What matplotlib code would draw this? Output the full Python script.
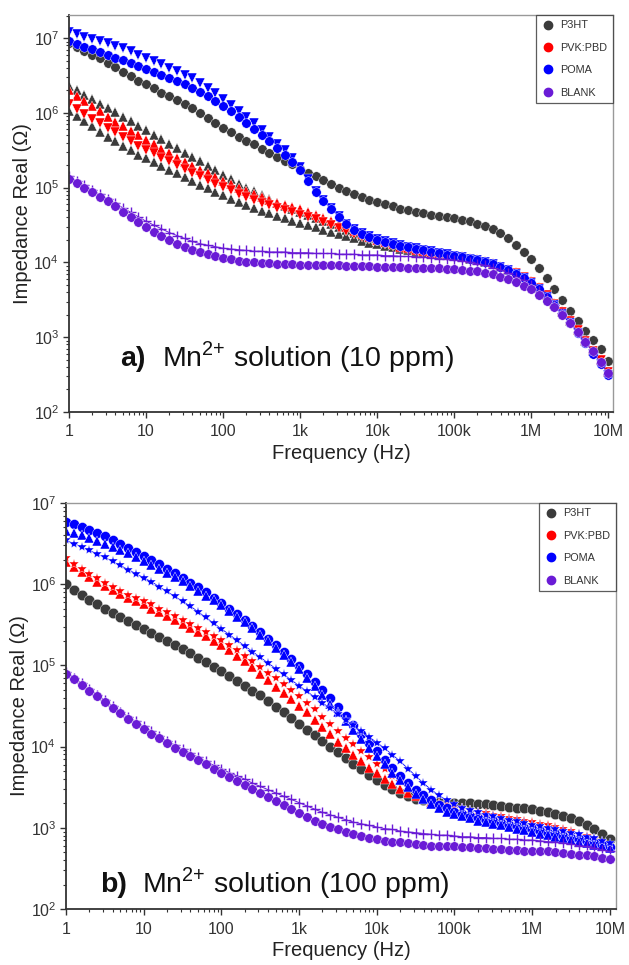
import numpy as np
import matplotlib
matplotlib.use("Agg")
import matplotlib.pyplot as plt
from matplotlib.lines import Line2D
from matplotlib.ticker import LogLocator, NullFormatter

plt.rcParams["font.family"] = ["Liberation Sans", "DejaVu Sans"]
plt.rcParams["mathtext.fontset"] = "custom"
plt.rcParams["mathtext.rm"] = "Liberation Sans"

# measurement frequencies (Hz), 10 points per decade from 1 Hz to 10 MHz
freq_hz = np.logspace(0, 7, 71)

x_ticks = [1, 10, 100, 1e3, 1e4, 1e5, 1e6, 1e7]
x_tick_labels = ["1", "10", "100", "1k", "10k", "100k", "1M", "10M"]
y_ticks = [1e2, 1e3, 1e4, 1e5, 1e6, 1e7]
y_tick_labels = ["$10^{2}$", "$10^{3}$", "$10^{4}$", "$10^{5}$", "$10^{6}$", "$10^{7}$"]

materials = ["P3HT", "PVK:PBD", "POMA", "BLANK"]
colors = {"P3HT": "#3b3b3b", "PVK:PBD": "#ff0000", "POMA": "#0000ff", "BLANK": "#6a1bd6"}

# ---- panel a: Mn2+ 10 ppm, log10 of real impedance (ohm) ----
a_p3ht_o = [
    6.93, 6.88, 6.83, 6.78, 6.73, 6.67, 6.61, 6.55, 6.49, 6.43,
    6.38, 6.33, 6.27, 6.22, 6.17, 6.12, 6.06, 6.00, 5.93, 5.86,
    5.80, 5.74, 5.68, 5.63, 5.58, 5.52, 5.47, 5.41, 5.36, 5.31,
    5.25, 5.20, 5.15, 5.10, 5.05, 5.00, 4.95, 4.91, 4.87, 4.84,
    4.81, 4.78, 4.75, 4.72, 4.70, 4.68, 4.66, 4.64, 4.62, 4.61,
    4.59, 4.57, 4.55, 4.52, 4.49, 4.45, 4.40, 4.32, 4.23, 4.14,
    4.05, 3.93, 3.79, 3.65, 3.50, 3.35, 3.21, 3.08, 2.96, 2.84,
    2.68]
a_p3ht_tri_hi = [
    6.36, 6.30, 6.24, 6.18, 6.12, 6.07, 6.01, 5.95, 5.89, 5.83,
    5.77, 5.71, 5.65, 5.59, 5.53, 5.47, 5.41, 5.35, 5.29, 5.23,
    5.17, 5.11, 5.05, 5.00, 4.95, 4.90, 4.85, 4.80, 4.76, 4.72,
    4.68, 4.64, 4.60, 4.56, 4.52, 4.48, 4.44, 4.40, 4.36, 4.33,
    4.30, 4.27, 4.24, 4.21, 4.19, 4.17, 4.15, 4.13, 4.11, 4.10,
    4.08, 4.07, 4.05, 4.03, 4.01, 3.98, 3.94, 3.90, 3.86, 3.80,
    3.74, 3.66, 3.56, 3.45, 3.34, 3.22, 3.09, 2.95, 2.82, 2.69,
    2.53]
a_p3ht_tri_lo = [
    6.03, 5.96, 5.89, 5.82, 5.75, 5.68, 5.62, 5.56, 5.50, 5.44,
    5.39, 5.34, 5.29, 5.24, 5.19, 5.14, 5.09, 5.04, 4.99, 4.94,
    4.90, 4.85, 4.81, 4.77, 4.73, 4.69, 4.66, 4.62, 4.59, 4.56,
    4.53, 4.50, 4.47, 4.44, 4.41, 4.38, 4.35, 4.32, 4.29, 4.26,
    4.24, 4.22, 4.20, 4.18, 4.16, 4.14, 4.13, 4.12, 4.11, 4.10,
    4.09, 4.07, 4.05, 4.03, 4.01, 3.98, 3.94, 3.90, 3.86, 3.80,
    3.74, 3.66, 3.56, 3.45, 3.34, 3.22, 3.09, 2.95, 2.82, 2.69,
    2.53]
a_pvk_tri = [
    6.30, 6.23, 6.16, 6.09, 6.02, 5.95, 5.88, 5.82, 5.76, 5.70,
    5.64, 5.58, 5.52, 5.46, 5.40, 5.34, 5.29, 5.24, 5.19, 5.14,
    5.09, 5.05, 5.00, 4.96, 4.92, 4.88, 4.84, 4.80, 4.77, 4.74,
    4.71, 4.67, 4.64, 4.60, 4.56, 4.52, 4.47, 4.42, 4.38, 4.34,
    4.30, 4.27, 4.24, 4.21, 4.19, 4.17, 4.15, 4.13, 4.12, 4.10,
    4.09, 4.08, 4.06, 4.04, 4.02, 3.99, 3.95, 3.91, 3.87, 3.81,
    3.75, 3.67, 3.57, 3.46, 3.35, 3.23, 3.10, 2.96, 2.83, 2.70,
    2.54]
a_pvk_star = [
    6.12, 6.05, 5.98, 5.92, 5.86, 5.80, 5.74, 5.68, 5.62, 5.56,
    5.51, 5.46, 5.40, 5.35, 5.30, 5.25, 5.20, 5.15, 5.10, 5.05,
    5.01, 4.97, 4.92, 4.88, 4.84, 4.80, 4.77, 4.73, 4.70, 4.67,
    4.64, 4.61, 4.58, 4.54, 4.50, 4.46, 4.42, 4.38, 4.34, 4.31,
    4.28, 4.25, 4.22, 4.20, 4.18, 4.16, 4.14, 4.12, 4.11, 4.09,
    4.08, 4.07, 4.05, 4.03, 4.01, 3.98, 3.94, 3.90, 3.86, 3.80,
    3.74, 3.66, 3.56, 3.45, 3.34, 3.22, 3.09, 2.95, 2.82, 2.69,
    2.53]
a_poma_tri = [
    7.08, 7.05, 7.02, 6.99, 6.96, 6.93, 6.90, 6.87, 6.83, 6.78,
    6.73, 6.69, 6.65, 6.60, 6.56, 6.51, 6.46, 6.40, 6.33, 6.26,
    6.19, 6.11, 6.03, 5.94, 5.86, 5.77, 5.68, 5.59, 5.50, 5.40,
    5.28, 5.12, 4.96, 4.84, 4.73, 4.62, 4.52, 4.45, 4.39, 4.35,
    4.31, 4.28, 4.26, 4.23, 4.21, 4.19, 4.17, 4.15, 4.13, 4.11,
    4.09, 4.07, 4.05, 4.03, 4.01, 3.98, 3.94, 3.90, 3.85, 3.79,
    3.72, 3.64, 3.54, 3.43, 3.31, 3.19, 3.06, 2.92, 2.78, 2.64,
    2.49]
a_poma_o = [
    6.96, 6.92, 6.88, 6.85, 6.81, 6.78, 6.74, 6.71, 6.67, 6.63,
    6.59, 6.55, 6.51, 6.47, 6.43, 6.38, 6.33, 6.28, 6.22, 6.16,
    6.09, 6.02, 5.95, 5.87, 5.79, 5.71, 5.62, 5.53, 5.44, 5.34,
    5.23, 5.09, 4.94, 4.82, 4.71, 4.61, 4.51, 4.44, 4.38, 4.34,
    4.30, 4.27, 4.25, 4.22, 4.20, 4.18, 4.16, 4.14, 4.12, 4.10,
    4.08, 4.07, 4.05, 4.03, 4.01, 3.98, 3.94, 3.90, 3.85, 3.79,
    3.72, 3.64, 3.54, 3.43, 3.31, 3.19, 3.06, 2.92, 2.78, 2.64,
    2.49]
a_blank_o = [
    5.12, 5.06, 5.00, 4.94, 4.88, 4.82, 4.75, 4.68, 4.61, 4.54,
    4.47, 4.41, 4.35, 4.30, 4.25, 4.21, 4.17, 4.14, 4.11, 4.08,
    4.06, 4.04, 4.02, 4.01, 4.00, 3.99, 3.99, 3.98, 3.98, 3.98,
    3.97, 3.97, 3.97, 3.96, 3.96, 3.96, 3.95, 3.95, 3.95, 3.95,
    3.94, 3.94, 3.94, 3.94, 3.93, 3.93, 3.93, 3.92, 3.92, 3.91,
    3.91, 3.90, 3.89, 3.88, 3.86, 3.84, 3.81, 3.78, 3.74, 3.69,
    3.64, 3.57, 3.49, 3.40, 3.30, 3.19, 3.07, 2.94, 2.81, 2.67,
    2.52]
a_blank_plus = [
    5.15, 5.09, 5.03, 4.97, 4.91, 4.85, 4.79, 4.73, 4.67, 4.61,
    4.55, 4.50, 4.45, 4.40, 4.36, 4.32, 4.28, 4.25, 4.23, 4.21,
    4.19, 4.18, 4.17, 4.16, 4.15, 4.15, 4.14, 4.14, 4.14, 4.13,
    4.13, 4.13, 4.12, 4.12, 4.12, 4.11, 4.11, 4.11, 4.10, 4.10,
    4.10, 4.09, 4.09, 4.08, 4.08, 4.07, 4.07, 4.06, 4.05, 4.04,
    4.03, 4.02, 4.00, 3.98, 3.96, 3.93, 3.90, 3.86, 3.81, 3.76,
    3.70, 3.62, 3.53, 3.43, 3.32, 3.20, 3.07, 2.94, 2.80, 2.66,
    2.51]

# ---- panel b: Mn2+ 100 ppm ----
b_p3ht_o = [
    6.00, 5.93, 5.87, 5.81, 5.75, 5.70, 5.65, 5.60, 5.55, 5.50,
    5.45, 5.40, 5.35, 5.30, 5.25, 5.20, 5.15, 5.09, 5.04, 4.98,
    4.93, 4.87, 4.81, 4.75, 4.69, 4.63, 4.56, 4.49, 4.42, 4.35,
    4.28, 4.21, 4.14, 4.07, 4.00, 3.93, 3.86, 3.79, 3.72, 3.65,
    3.59, 3.53, 3.48, 3.43, 3.39, 3.36, 3.34, 3.33, 3.32, 3.31,
    3.31, 3.30, 3.30, 3.29, 3.29, 3.28, 3.27, 3.26, 3.25, 3.24,
    3.23, 3.21, 3.19, 3.17, 3.15, 3.12, 3.08, 3.04, 2.99, 2.93,
    2.86]
b_pvk_star = [
    6.32, 6.25, 6.19, 6.13, 6.07, 6.02, 5.97, 5.92, 5.87, 5.83,
    5.79, 5.75, 5.70, 5.66, 5.61, 5.56, 5.51, 5.46, 5.41, 5.36,
    5.31, 5.25, 5.19, 5.12, 5.05, 4.98, 4.91, 4.84, 4.77, 4.70,
    4.62, 4.54, 4.46, 4.37, 4.28, 4.19, 4.11, 4.03, 3.95, 3.87,
    3.79, 3.72, 3.64, 3.57, 3.50, 3.44, 3.39, 3.35, 3.31, 3.28,
    3.26, 3.24, 3.22, 3.20, 3.18, 3.16, 3.14, 3.12, 3.11, 3.09,
    3.07, 3.05, 3.03, 3.01, 2.99, 2.96, 2.93, 2.90, 2.86, 2.82,
    2.78]
b_pvk_tri = [
    6.27, 6.21, 6.15, 6.09, 6.03, 5.98, 5.93, 5.88, 5.83, 5.79,
    5.75, 5.70, 5.66, 5.61, 5.56, 5.51, 5.46, 5.41, 5.36, 5.30,
    5.25, 5.19, 5.12, 5.05, 4.98, 4.90, 4.82, 4.74, 4.66, 4.58,
    4.50, 4.42, 4.33, 4.24, 4.15, 4.06, 3.98, 3.90, 3.82, 3.74,
    3.67, 3.60, 3.54, 3.48, 3.43, 3.39, 3.35, 3.32, 3.29, 3.27,
    3.25, 3.23, 3.21, 3.19, 3.17, 3.15, 3.13, 3.11, 3.09, 3.07,
    3.05, 3.03, 3.01, 2.99, 2.97, 2.94, 2.91, 2.88, 2.84, 2.80,
    2.76]
b_poma_o = [
    6.77, 6.74, 6.71, 6.67, 6.63, 6.59, 6.55, 6.50, 6.45, 6.40,
    6.35, 6.30, 6.25, 6.19, 6.14, 6.08, 6.02, 5.96, 5.90, 5.83,
    5.77, 5.70, 5.63, 5.56, 5.49, 5.41, 5.33, 5.25, 5.17, 5.08,
    4.99, 4.90, 4.80, 4.70, 4.60, 4.49, 4.38, 4.27, 4.16, 4.05,
    3.94, 3.84, 3.74, 3.64, 3.55, 3.47, 3.40, 3.34, 3.28, 3.24,
    3.20, 3.17, 3.15, 3.12, 3.10, 3.08, 3.06, 3.04, 3.02, 3.00,
    2.98, 2.96, 2.94, 2.92, 2.90, 2.88, 2.86, 2.84, 2.81, 2.79,
    2.76]
b_poma_tri = [
    6.66, 6.63, 6.60, 6.57, 6.53, 6.50, 6.46, 6.42, 6.38, 6.33,
    6.29, 6.24, 6.19, 6.14, 6.09, 6.04, 5.98, 5.92, 5.86, 5.80,
    5.74, 5.67, 5.60, 5.53, 5.46, 5.38, 5.30, 5.22, 5.13, 5.04,
    4.95, 4.85, 4.75, 4.64, 4.53, 4.42, 4.31, 4.20, 4.09, 3.98,
    3.88, 3.78, 3.68, 3.59, 3.50, 3.42, 3.35, 3.29, 3.24, 3.20,
    3.17, 3.14, 3.12, 3.09, 3.07, 3.05, 3.03, 3.01, 2.99, 2.97,
    2.95, 2.93, 2.91, 2.89, 2.87, 2.85, 2.83, 2.81, 2.79, 2.77,
    2.75]
b_poma_star = [
    6.54, 6.50, 6.46, 6.42, 6.37, 6.33, 6.28, 6.23, 6.18, 6.13,
    6.08, 6.03, 5.97, 5.91, 5.85, 5.79, 5.73, 5.66, 5.59, 5.52,
    5.45, 5.38, 5.31, 5.24, 5.17, 5.10, 5.03, 4.96, 4.89, 4.82,
    4.75, 4.68, 4.61, 4.54, 4.47, 4.40, 4.33, 4.26, 4.19, 4.12,
    4.05, 3.98, 3.90, 3.82, 3.73, 3.64, 3.55, 3.47, 3.40, 3.34,
    3.29, 3.25, 3.22, 3.19, 3.16, 3.14, 3.12, 3.10, 3.08, 3.06,
    3.04, 3.02, 3.00, 2.98, 2.96, 2.94, 2.92, 2.89, 2.87, 2.84,
    2.81]
b_blank_o = [
    4.90, 4.83, 4.76, 4.69, 4.62, 4.55, 4.48, 4.41, 4.34, 4.28,
    4.22, 4.16, 4.10, 4.04, 3.98, 3.93, 3.88, 3.83, 3.78, 3.73,
    3.68, 3.63, 3.58, 3.53, 3.48, 3.43, 3.38, 3.33, 3.28, 3.23,
    3.18, 3.13, 3.09, 3.05, 3.01, 2.98, 2.95, 2.92, 2.90, 2.88,
    2.86, 2.84, 2.83, 2.82, 2.81, 2.80, 2.79, 2.78, 2.78, 2.77,
    2.77, 2.76, 2.76, 2.75, 2.75, 2.74, 2.74, 2.73, 2.73, 2.72,
    2.72, 2.71, 2.71, 2.70, 2.69, 2.68, 2.67, 2.66, 2.65, 2.63,
    2.61]
b_blank_plus = [
    4.92, 4.85, 4.78, 4.71, 4.64, 4.57, 4.50, 4.43, 4.37, 4.31,
    4.25, 4.19, 4.13, 4.07, 4.02, 3.97, 3.92, 3.87, 3.82, 3.77,
    3.73, 3.68, 3.64, 3.60, 3.55, 3.51, 3.47, 3.43, 3.39, 3.35,
    3.31, 3.27, 3.23, 3.19, 3.16, 3.13, 3.10, 3.07, 3.05, 3.03,
    3.01, 2.99, 2.98, 2.96, 2.95, 2.94, 2.93, 2.92, 2.91, 2.91,
    2.90, 2.89, 2.89, 2.88, 2.88, 2.87, 2.87, 2.86, 2.86, 2.85,
    2.85, 2.84, 2.83, 2.82, 2.81, 2.80, 2.78, 2.77, 2.75, 2.73,
    2.71]

# (material, log10 values, marker, marker size, line width)
panel_a_series = [
    ("P3HT", a_p3ht_o, "o", 6.8, 0),
    ("P3HT", a_p3ht_tri_hi, "^", 7.2, 0),
    ("P3HT", a_p3ht_tri_lo, "^", 7.2, 0),
    ("PVK:PBD", a_pvk_tri, "^", 7.2, 0),
    ("PVK:PBD", a_pvk_star, "v", 7.2, 0),
    ("POMA", a_poma_tri, "v", 7.2, 0),
    ("POMA", a_poma_o, "o", 6.8, 0),
    ("BLANK", a_blank_plus, "+", 6.5, 0.7),
    ("BLANK", a_blank_o, "o", 6.8, 0),
]
panel_b_series = [
    ("P3HT", b_p3ht_o, "o", 7.6, 0),
    ("PVK:PBD", b_pvk_tri, "^", 7.6, 0),
    ("PVK:PBD", b_pvk_star, "*", 7.6, 0),
    ("POMA", b_poma_o, "o", 7.2, 0),
    ("POMA", b_poma_tri, "^", 6.6, 0),
    ("POMA", b_poma_star, "*", 7.0, 0.6),
    ("BLANK", b_blank_plus, "+", 6.5, 0.7),
    ("BLANK", b_blank_o, "o", 6.8, 0),
]

fig = plt.figure(figsize=(6.29, 9.65), dpi=100)
ax_a = fig.add_axes([0.1097, 0.5731, 0.8649, 0.4114])
ax_b = fig.add_axes([0.1049, 0.0580, 0.8744, 0.4208])


def draw_panel(ax, series, ylim, xmax, tag, text, text_xy, gap):
    for name, logz, marker, ms, lw in series:
        z = 10 ** np.asarray(logz)
        ax.plot(freq_hz, z, marker=marker, ms=ms, lw=lw, ls="-" if lw else "none",
                color=colors[name], mec=colors[name] if marker == "+" else "white",
                mew=1.0 if marker == "+" else 0.3)
    ax.set_xscale("log")
    ax.set_yscale("log")
    ax.set_xlim(1, xmax)
    ax.set_ylim(*ylim)
    ax.set_xticks(x_ticks, x_tick_labels)
    ax.set_yticks(y_ticks, y_tick_labels)
    ax.xaxis.set_minor_locator(LogLocator(base=10, subs=np.arange(2, 10), numticks=20))
    ax.yaxis.set_minor_locator(LogLocator(base=10, subs=np.arange(2, 10), numticks=20))
    ax.xaxis.set_minor_formatter(NullFormatter())
    ax.yaxis.set_minor_formatter(NullFormatter())
    ax.tick_params(which="major", direction="out", length=4, width=1.0,
                   labelsize=11.5, colors="#333333", pad=3)
    ax.tick_params(which="minor", direction="out", length=2.2, width=0.8,
                   colors="#333333")
    ax.tick_params(axis="x", pad=5)
    for side in ("left", "bottom"):
        ax.spines[side].set_linewidth(1.3)
        ax.spines[side].set_color("#333333")
    for side in ("top", "right"):
        ax.spines[side].set_linewidth(1.0)
        ax.spines[side].set_color("#999999")
    ax.set_xlabel("Frequency (Hz)", fontsize=14.5, color="#222222", labelpad=3)
    ax.set_ylabel("Impedance Real (\u03a9)", fontsize=14.5, color="#222222", labelpad=1)

    handles = [Line2D([], [], marker="o", ls="none", ms=6, color=colors[m]) for m in materials]
    leg = ax.legend(handles, materials, loc="upper right", bbox_to_anchor=(1, 1),
                    borderaxespad=0, fontsize=7.8, frameon=True, fancybox=False,
                    labelspacing=1.15, handlelength=1.3, handletextpad=0.5,
                    borderpad=0.5, labelcolor="#333333")
    leg.get_frame().set_edgecolor("#333333")
    leg.get_frame().set_linewidth(0.9)

    ax.text(text_xy[0], text_xy[1], tag, transform=ax.transAxes, fontsize=20.5,
            fontweight="bold", va="baseline", ha="left", color="#111111")
    ax.text(text_xy[0] + gap, text_xy[1], text, transform=ax.transAxes,
            fontsize=20.5, va="baseline", ha="left", color="#111111")


draw_panel(ax_a, panel_a_series, (1e2, 2.04e7), 1.15e7, "a)",
           "Mn$^{\\mathregular{2{+}}}$ solution (10 ppm)", (0.094, 0.115), 0.077)
draw_panel(ax_b, panel_b_series, (1e2, 1e7), 1.2e7, "b)",
           "Mn$^{\\mathregular{2{+}}}$ solution (100 ppm)", (0.062, 0.042), 0.077)

fig.savefig("out.png", dpi=100)
